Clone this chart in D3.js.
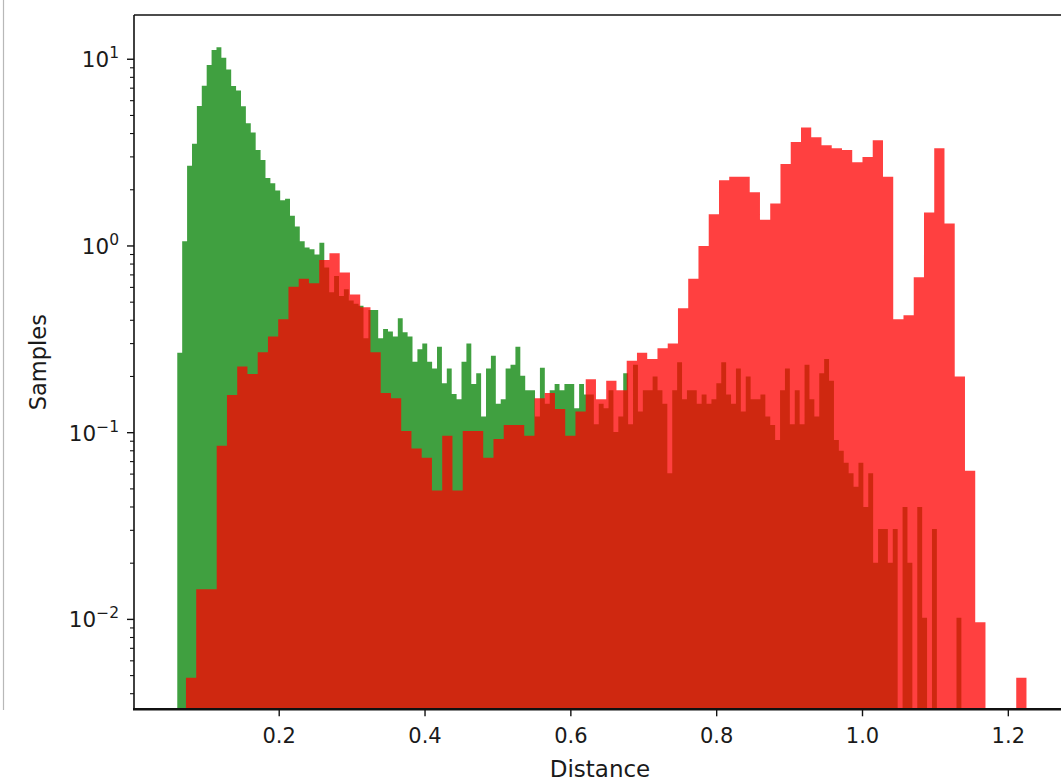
<!DOCTYPE html>
<html>
<head>
<meta charset="utf-8">
<script src="https://cdn.jsdelivr.net/npm/d3@7"></script>
<style>
  body { margin: 0; background: #fff; }
  text { font-family: "DejaVu Sans", sans-serif; fill: #1a1a1a; }
</style>
</head>
<body>
<svg id="chart" width="1061" height="784"></svg>
<script>
// histogram bin ranges (distance) and counts per bin
const greenRange = [0.0602, 1.1356]
const redRange = [0.0721, 1.2249]

const greenCounts = [
  0.268, 1.06, 2.69, 3.53, 5.62, 7.22, 9.32, 11.2, 11.6, 10.2,
  8.8, 7.2, 6.8, 5.6, 4.54, 4.05, 3.27, 2.89, 2.31, 2.17,
  1.98, 1.76, 1.79, 1.45, 1.27, 1.06, 0.98, 0.96, 0.90, 1.04,
  0.766, 0.565, 0.69, 0.54, 0.586, 0.51, 0.49, 0.478, 0.32, 0.454,
  0.454, 0.32, 0.359, 0.348, 0.327, 0.41, 0.345, 0.327, 0.24, 0.28,
  0.30, 0.24, 0.221, 0.289, 0.184, 0.221, 0.161, 0.151, 0.24, 0.30,
  0.182, 0.208, 0.122, 0.221, 0.258, 0.143, 0.151, 0.221, 0.231, 0.289,
  0.202, 0.169, 0.169, 0.122, 0.223, 0.143, 0.169, 0.182, 0.169, 0.182,
  0.182, 0.135, 0.182, 0.16, 0.16, 0.111, 0.143, 0.135, 0.169, 0.101,
  0.122, 0.208, 0.111, 0.231, 0.13, 0.169, 0.169, 0.2, 0.169, 0.143,
  0.0606, 0.169, 0.238, 0.151, 0.169, 0.169, 0.143, 0.16, 0.143, 0.151,
  0.184, 0.238, 0.16, 0.143, 0.221, 0.13, 0.2, 0.151, 0.151, 0.16,
  0.122, 0.11, 0.0914, 0.169, 0.221, 0.111, 0.169, 0.111, 0.231, 0.151,
  0.122, 0.208, 0.248, 0.19, 0.0914, 0.08, 0.069, 0.0606, 0.0514, 0.069,
  0.04, 0.0606, 0.0201, 0.0305, 0.0305, 0.0201, 0.0305, 0, 0.04, 0.0201,
  0, 0.04, 0.0102, 0, 0.0305, 0, 0, 0, 0, 0.0102
]

const redCounts = [
  0.00487, 0.0145, 0.0145, 0.085, 0.159, 0.226, 0.206, 0.27, 0.327, 0.405,
  0.605, 0.668, 0.631, 0.841, 0.914, 0.72, 0.55, 0.47, 0.27, 0.163,
  0.153, 0.102, 0.0824, 0.0735, 0.049, 0.0964, 0.049, 0.102, 0.102, 0.0735,
  0.0925, 0.11, 0.11, 0.0964, 0.153, 0.163, 0.134, 0.0964, 0.13, 0.193,
  0.151, 0.19, 0.169, 0.243, 0.268, 0.248, 0.283, 0.30, 0.464, 0.668,
  1.0, 1.48, 2.25, 2.35, 2.35, 1.94, 1.38, 1.69, 2.75, 3.6,
  4.31, 3.82, 3.46, 3.34, 3.27, 2.81, 3.0, 3.68, 2.35, 0.405,
  0.426, 0.68, 1.51, 3.34, 1.32, 0.2, 0.0625, 0.00964, 0, 0,
  0, 0.00487
]

const xTicks = [0.2, 0.4, 0.6, 0.8, 1.0, 1.2]
const yMajorExps = [-2, -1, 0, 1]

// layout
const W = 1061, H = 784
const plot = { left: 134, right: 1066, top: 15, bottom: 709.3 }

const svg = d3.select("#chart")
svg.append("rect").attr("width", W).attr("height", H).attr("fill", "#fff")

// thin grey edge at far left of the screenshot
svg.append("line")
  .attr("x1", 3.5).attr("x2", 3.5).attr("y1", 0).attr("y2", 710)
  .attr("stroke", "#b8b8b8").attr("stroke-width", 1.2)

const x = d3.scaleLinear().domain([0.00085, 1.2791]).range([plot.left, plot.right])
const y = d3.scaleLog().domain([Math.pow(10, -2.4815), Math.pow(10, 1.237)]).range([plot.bottom, plot.top])

svg.append("defs").append("clipPath").attr("id", "clip")
  .append("rect")
  .attr("x", plot.left).attr("y", plot.top)
  .attr("width", plot.right - plot.left).attr("height", plot.bottom - plot.top)

// turn counts into step points on bin edges
function stepPoints(range, counts) {
  const w = (range[1] - range[0]) / counts.length
  const pts = counts.map((c, i) => ({ x: range[0] + i * w, v: c }))
  pts.push({ x: range[1], v: counts[counts.length - 1] })
  return pts
}

const area = d3.area()
  .curve(d3.curveStepAfter)
  .x(d => x(d.x))
  .y0(plot.bottom)
  .y1(d => d.v > 0 ? y(d.v) : plot.bottom)

const g = svg.append("g").attr("clip-path", "url(#clip)")

g.append("path")
  .datum(stepPoints(greenRange, greenCounts))
  .attr("d", area)
  .attr("fill", "green")
  .attr("fill-opacity", 0.75)

g.append("path")
  .datum(stepPoints(redRange, redCounts))
  .attr("d", area)
  .attr("fill", "red")
  .attr("fill-opacity", 0.75)

// spines
const spine = svg.append("g").attr("stroke", "#111").attr("fill", "none")
spine.append("line").attr("x1", plot.left).attr("x2", plot.left).attr("y1", plot.top).attr("y2", plot.bottom).attr("stroke-width", 1.6)
spine.append("line").attr("x1", plot.left).attr("x2", W + 10).attr("y1", plot.top).attr("y2", plot.top).attr("stroke-width", 1.6)
spine.append("line").attr("x1", plot.left - 1).attr("x2", W + 10).attr("y1", plot.bottom).attr("y2", plot.bottom).attr("stroke-width", 2.6)

// x axis
const xAxis = svg.append("g")
xTicks.forEach(t => {
  xAxis.append("line")
    .attr("x1", x(t)).attr("x2", x(t))
    .attr("y1", plot.bottom).attr("y2", plot.bottom + 7)
    .attr("stroke", "#111").attr("stroke-width", 1.4)
  xAxis.append("text")
    .attr("x", x(t)).attr("y", plot.bottom + 34)
    .attr("text-anchor", "middle")
    .style("font-size", "21px")
    .text(d3.format(".1f")(t))
})

// y axis, log ticks
const yAxis = svg.append("g")
const [lo, hi] = y.domain()
for (let e = -3; e <= 1; e++) {
  for (let m = 1; m <= 9; m++) {
    const v = m * Math.pow(10, e)
    if (v < lo || v > hi) continue
    const major = m === 1
    yAxis.append("line")
      .attr("x1", plot.left - (major ? 7 : 4)).attr("x2", plot.left)
      .attr("y1", y(v)).attr("y2", y(v))
      .attr("stroke", "#111").attr("stroke-width", major ? 1.4 : 1.1)
  }
}
yMajorExps.forEach(e => {
  const t = yAxis.append("text")
    .attr("x", plot.left - 15).attr("y", y(Math.pow(10, e)) + 8)
    .attr("text-anchor", "end")
    .style("font-size", "21.5px")
  t.append("tspan").text("10")
  t.append("tspan")
    .attr("dy", -9)
    .style("font-size", "15.5px")
    .text(e < 0 ? "\u2212" + Math.abs(e) : String(e))
})

// axis labels
svg.append("text")
  .attr("x", 600).attr("y", 777)
  .attr("text-anchor", "middle")
  .style("font-size", "23px")
  .text("Distance")

svg.append("text")
  .attr("transform", `translate(46,${(plot.top + plot.bottom) / 2}) rotate(-90)`)
  .attr("text-anchor", "middle")
  .style("font-size", "22.5px")
  .text("Samples")
</script>
</body>
</html>
